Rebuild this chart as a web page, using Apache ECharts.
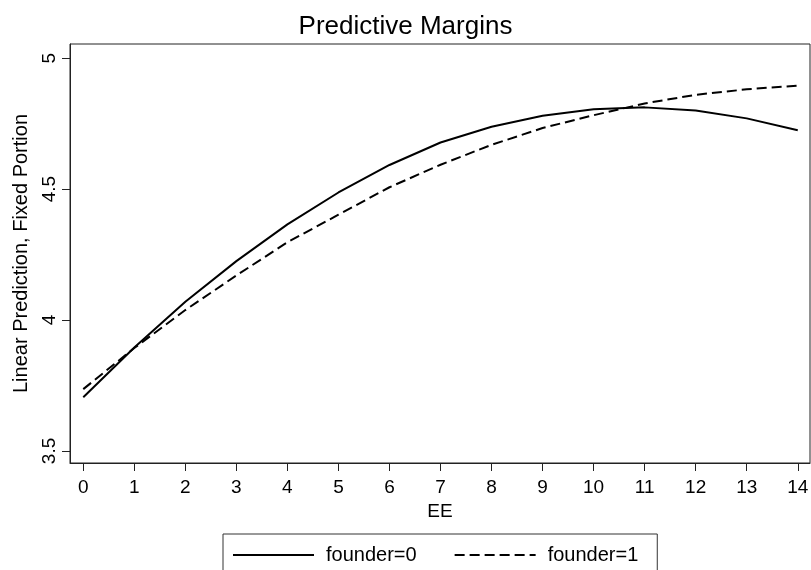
<!DOCTYPE html>
<html>
<head>
<meta charset="utf-8">
<script src="https://cdn.jsdelivr.net/npm/echarts@6/dist/echarts.min.js"></script>
<style>
  html, body { margin: 0; padding: 0; background: #fff; }
  #chart { width: 811px; height: 570px; }
</style>
</head>
<body>
<div id="chart"></div>
<script>
// Predictive margins of the fixed-portion linear prediction over EE, by founder status
const eeValues = [0, 1, 2, 3, 4, 5, 6, 7, 8, 9, 10, 11, 12, 13, 14];
const founder0 = [3.705, 3.895, 4.070, 4.225, 4.365, 4.487, 4.592, 4.678, 4.738, 4.780, 4.805, 4.812, 4.800, 4.770, 4.725];
const founder1 = [3.736, 3.893, 4.038, 4.170, 4.297, 4.402, 4.507, 4.593, 4.669, 4.733, 4.782, 4.827, 4.860, 4.881, 4.895];
const xTicks = [0, 1, 2, 3, 4, 5, 6, 7, 8, 9, 10, 11, 12, 13, 14];
const yTicks = [3.5, 4, 4.5, 5];

const FONT = '"Liberation Sans", Arial, sans-serif';
const INK = '#000';

const toPairs = (xs, ys) => xs.map((x, i) => [x, ys[i]]);

const chart = echarts.init(document.getElementById('chart'), null, { renderer: 'canvas' });

chart.setOption({
  animation: false,
  backgroundColor: '#fff',
  title: {
    text: 'Predictive Margins',
    left: 'center',
    top: 9,
    textStyle: { fontFamily: FONT, fontSize: 26, fontWeight: 'normal', color: INK }
  },
  grid: {
    left: 70, right: 1, top: 44, bottom: 107,
    outerBoundsMode: 'none',
    containLabel: false,
    show: true, borderColor: '#222', borderWidth: 1, backgroundColor: 'transparent'
  },
  xAxis: {
    type: 'value',
    min: -0.26,
    max: 14.24,
    name: 'EE',
    nameLocation: 'middle',
    nameGap: 36,
    nameTextStyle: { fontFamily: FONT, fontSize: 19, color: INK },
    axisLine: { show: true, onZero: false, lineStyle: { color: '#222', width: 1 } },
    axisTick: { show: true, customValues: xTicks, length: 8, lineStyle: { color: '#222' } },
    axisLabel: { customValues: xTicks, margin: 15, fontFamily: FONT, fontSize: 19, color: INK },
    splitLine: { show: false }
  },
  yAxis: {
    type: 'value',
    min: 3.454,
    max: 5.054,
    name: 'Linear Prediction, Fixed Portion',
    nameLocation: 'middle',
    nameGap: 39,
    nameTextStyle: { fontFamily: FONT, fontSize: 20, color: INK },
    axisLine: { show: true, onZero: false, lineStyle: { color: '#222', width: 1 } },
    axisTick: { show: true, customValues: yTicks, length: 8, lineStyle: { color: '#222' } },
    axisLabel: { customValues: yTicks, rotate: 90, margin: 11, fontFamily: FONT, fontSize: 19, color: INK },
    splitLine: { show: false }
  },
  legend: {
    left: 223,
    top: 534,
    orient: 'horizontal',
    itemWidth: 81,
    itemHeight: 20,
    itemGap: 37,
    padding: [11, 19, 30, 9],
    borderColor: '#333',
    borderWidth: 1,
    itemStyle: { opacity: 0 },
    textStyle: { fontFamily: FONT, fontSize: 20, color: INK, padding: [0, 0, 0, 7] },
    data: ['founder=0', 'founder=1']
  },
  series: [
    {
      name: 'founder=0',
      type: 'line',
      data: toPairs(eeValues, founder0),
      symbol: 'none',
      lineStyle: { color: INK, width: 2, type: 'solid' },
      itemStyle: { color: INK }
    },
    {
      name: 'founder=1',
      type: 'line',
      data: toPairs(eeValues, founder1),
      symbol: 'none',
      lineStyle: { color: INK, width: 2, type: [10, 5] },
      itemStyle: { color: INK }
    }
  ]
});
</script>
</body>
</html>
